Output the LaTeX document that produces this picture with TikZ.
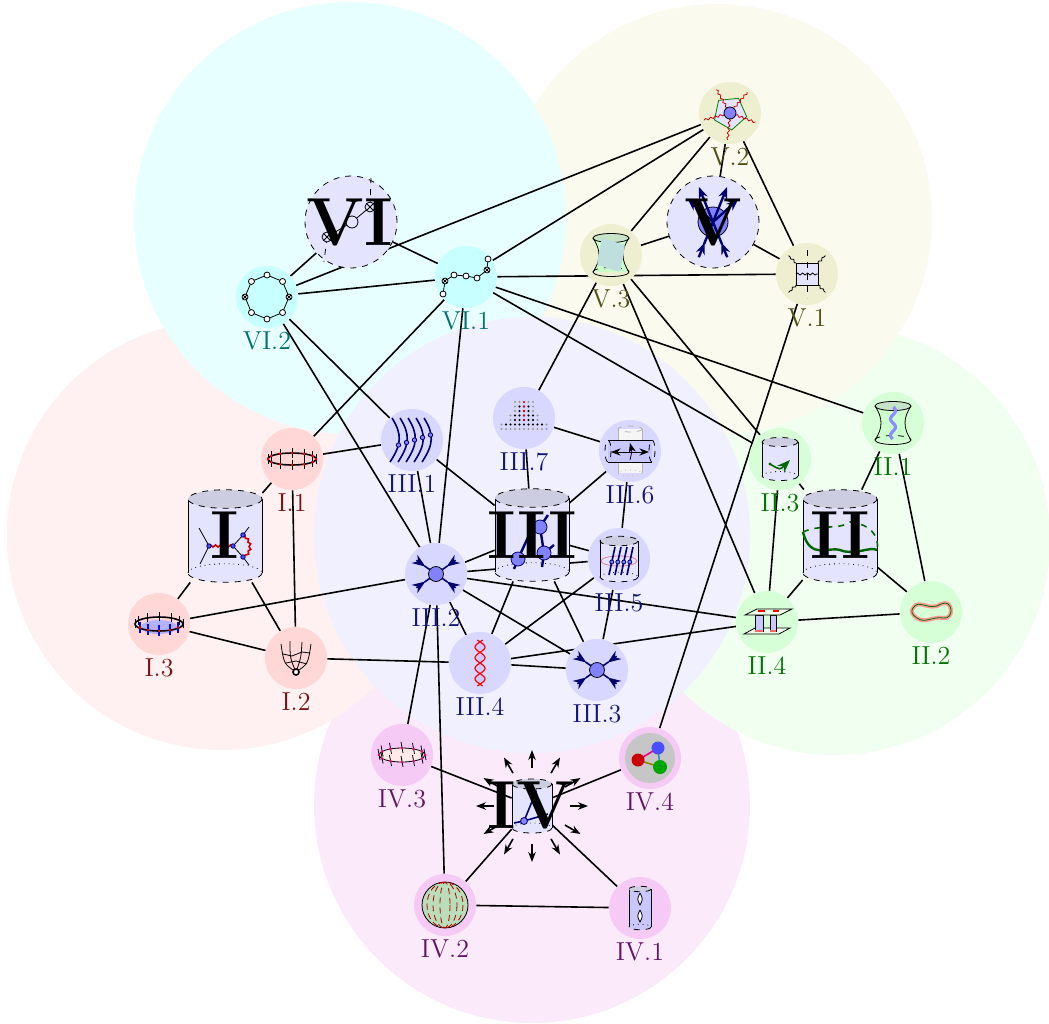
\documentclass[tikz,border=0pt]{standalone}
\usetikzlibrary{arrows.meta,decorations.pathmorphing}
\tikzset {>=Stealth}
\definecolor{bgI}{RGB}{255,241,241}
\definecolor{bgII}{RGB}{240,255,240}
\definecolor{bgIII}{RGB}{240,240,255}
\definecolor{bgIV}{RGB}{251,234,250}
\definecolor{bgV}{RGB}{250,250,238}
\definecolor{bgVI}{RGB}{232,255,255}
\definecolor{ndI}{RGB}{255,215,215}
\definecolor{ndII}{RGB}{215,255,215}
\definecolor{ndIII}{RGB}{215,215,255}
\definecolor{ndIV}{RGB}{245,202,245}
\definecolor{ndV}{RGB}{238,238,208}
\definecolor{ndVI}{RGB}{200,255,255}
\definecolor{txI}{RGB}{120,20,20}
\definecolor{txII}{RGB}{0,115,0}
\definecolor{txIII}{RGB}{20,20,120}
\definecolor{txIV}{RGB}{100,20,100}
\definecolor{txV}{RGB}{80,80,20}
\definecolor{txVI}{RGB}{0,112,112}
\definecolor{lav}{RGB}{228,228,255}
\definecolor{tube}{RGB}{200,200,255}
\definecolor{cyltop}{RGB}{205,205,225}
\definecolor{dotblue}{RGB}{130,130,255}
\definecolor{navy}{RGB}{0,0,110}
\definecolor{hypfill}{RGB}{205,255,205}
\definecolor{hyptop}{RGB}{200,228,200}
\definecolor{sphere}{RGB}{185,222,185}
\pgfdeclarelayer{back}
\pgfdeclarelayer{edges}
\pgfsetlayers{back,edges,main}

% cylinder: fill, x, y, half width, half height
\newcommand{\cylbody}[5][lav]{%
\begin{scope}[shift={(#2,#3)}]
\fill[#1] (-#4,-#5) rectangle (#4,#5);
\fill[#1] (0,#5) ellipse[x radius=#4,y radius=#4/4];
\draw[dotted] (-#4,#5) arc[start angle=180,end angle=360,x radius=#4,y radius=#4/4];
\draw[dashed] (#4,#5) arc[start angle=0,end angle=180,x radius=#4,y radius=#4/4];
\draw (-#4,-#5) -- (-#4,#5) (#4,-#5) -- (#4,#5);
\draw[dashed,fill=cyltop] (0,-#5) ellipse[x radius=#4,y radius=#4/4];
\end{scope}}
\newcommand{\hyper}[2]{%
\begin{scope}[shift={(#1,#2)}]
\fill[hypfill] (-18,-17) .. controls (-10,-5) and (-10,5) .. (-18,17) -- (18,17) .. controls (10,5) and (10,-5) .. (18,-17) -- cycle;
\draw (-18,-17) .. controls (-10,-5) and (-10,5) .. (-18,17) (18,17) .. controls (10,5) and (10,-5) .. (18,-17);
\draw[dashed] (-18,17) arc[start angle=180,end angle=360,x radius=18,y radius=4.5];
\draw (18,17) arc[start angle=0,end angle=180,x radius=18,y radius=4.5];
\draw[fill=hyptop] (0,-17) ellipse[x radius=18,y radius=4.5];
\end{scope}}
\newcommand{\otpt}[1]{\draw[fill=white] #1 circle (3); \draw #1 +(-2.1,-2.1) -- +(2.1,2.1) #1 +(-2.1,2.1) -- +(2.1,-2.1);}
\newcommand{\vertx}[2]{%
\begin{scope}[shift={(#1,#2)}]
\foreach \a in {35,145,215,325} {\draw[navy,thick,->] (\a:24) -- (\a:13); \draw[navy,thick] (\a:14) -- (0,0);}
\draw[fill=dotblue] (0,0) circle (7.5);
\end{scope}}

\begin{document}
\begin{tikzpicture}[x=.5pt,y=-.5pt,
  sn/.style={circle,minimum size=31pt,inner sep=0pt,fill=#1},
  lb/.style={text=#1,font=\fontsize{13}{15}\selectfont,label distance=-2pt},
  bign/.style={circle,draw,dashed,fill=lav,minimum size=46pt},
  cyln/.style={minimum width=37pt,minimum height=46pt,inner sep=0pt},
  big/.style={font=\fontsize{34}{34}\selectfont\bfseries},
  link/.style={line width=.8pt},
  wig/.style={decorate,decoration={snake,amplitude=.5pt,segment length=2.5pt}}]
\useasboundingbox (0,0) rectangle (1049,1023);

\begin{pgfonlayer}{back}
\fill[bgIV] (532,805) circle (218);
\fill[bgII] (835,540) circle (215);
\fill[bgV] (717,219) circle (215);
\fill[bgI] (222,535) circle (215);
\fill[bgVI] (350,218) circle (216);
\fill[bgIII] (532,535) circle (218);
\end{pgfonlayer}

% group V
\node[sn=ndV,label={[lb=txV]below:V.2}] (V2) at (730,113) {};
\node[sn=ndV,label={[lb=txV]below:V.3}] (V3) at (611,255) {};
\node[sn=ndV,label={[lb=txV]below:V.1}] (V1) at (807,274) {};
\node[bign] (V) at (713,222) {};
\begin{scope}[shift={(730,113)}]
\draw[green!50!black,fill=lav] (-60:17) -- (12:17) -- (84:17) -- (156:17) -- (228:17) -- cycle;
\foreach \a in {20,95,165,240,310} \draw[red!80!black,wig] (\a:6) -- (\a:27);
\draw[fill=dotblue] (0,0) circle (6);
\end{scope}
\hyper{611}{255}
\fill[teal!25] (611,255) +(-10,-11) .. controls +(0,-7) .. +(10,-11) .. controls +(5,0) .. +(10,11) .. controls +(0,7) .. +(-10,11) .. controls +(-5,0) .. +(-10,-11);
\begin{scope}[shift={(807,274)}]
\draw[fill=lav] (-11,-11) rectangle (11,11);
\foreach \a in {45,135,225,315} \draw[wig] (\a:15.6) -- (\a:26);
\draw[wig] (-11,0) -- (11,0);
\draw[dashed] (0,-24) -- (0,24);
\end{scope}
\begin{scope}[shift={(713,222)}]
\draw[fill=dotblue] (0,0) circle (15);
\foreach \a/\r in {248/38,292/38,222/34,318/34} \draw[navy,very thick,-{Stealth[length=6pt]}] (0,0) -- (\a:\r);
\foreach \a in {112,68} {\draw[navy,very thick,-{Stealth[length=6pt]}] (\a:38) -- (\a:22); \draw[navy,very thick] (\a:24) -- (0,0);}
\end{scope}
\node[big] at (713,222) {V};

% group VI
\node[sn=ndVI,label={[lb=txVI]below:VI.2}] (VI2) at (267,297) {};
\node[sn=ndVI,label={[lb=txVI]below:VI.1}] (VI1) at (466,277) {};
\node[bign] (VI) at (351,222) {};
\begin{scope}[shift={(267,297)}]
\draw (0:22) -- (45:22) -- (90:22) -- (135:22) -- (180:22) -- (225:22) -- (270:22) -- (315:22) -- cycle;
\foreach \a in {45,90,135,225,270,315} \draw[fill=white] (\a:22) circle (3);
\otpt{(0:22)} \otpt{(180:22)}
\end{scope}
\begin{scope}[shift={(466,277)}]
\draw (-23,17) -- (-21,4) -- (-12,-2) -- (0,-1) -- (11,1) -- (21,-7) -- (22,-18);
\foreach \p in {(-23,17),(-12,-2),(0,-1),(11,1),(22,-18)} \draw[fill=white] \p circle (3);
\otpt{(-21,4)} \otpt{(21,-7)}
\end{scope}
\begin{scope}[shift={(351,222)}]
\draw[dashed] (19,-15) -- (20,-44) (-24,15) -- (-27,40);
\draw (-24,15) -- (1,0) -- (19,-15);
\draw[fill=lav] (1,0) circle (6);
\draw[fill=lav] (19,-15) circle (5) (19,-15) +(-3.5,-3.5) -- +(3.5,3.5) (19,-15) +(-3.5,3.5) -- +(3.5,-3.5);
\draw[fill=lav] (-24,15) circle (5) (-24,15) +(-3.5,-3.5) -- +(3.5,3.5) (-24,15) +(-3.5,3.5) -- +(3.5,-3.5);
\end{scope}
\node[big] at (350,222) {VI};

% group I
\node[sn=ndI,label={[lb=txI]below:I.1}] (I1) at (292,459) {};
\node[sn=ndI,label={[lb=txI]below:I.3}] (I3) at (159,624) {};
\node[sn=ndI,label={[lb=txI]below:I.2}] (I2) at (296,658) {};
\cylbody{225}{536}{37}{37}
\node[cyln] (I) at (225,536) {};
\begin{scope}[shift={(292,459)}]
\draw[thick] (0,0) ellipse[x radius=24,y radius=6];
\foreach \a in {0,30,...,330} {\draw (\a:24 and 6) +(0,-5) -- +(0,5); \fill[red] (\a:24 and 6) circle (1.4);}
\end{scope}
\begin{scope}[shift={(159,624)}]
\fill[blue!30] (0,3) ellipse[x radius=18,y radius=7];
\draw[thick] (0,0) ellipse[x radius=24,y radius=7];
\foreach \a in {180,210,...,360} \draw (\a:24 and 7) +(0,-5) -- +(0,4);
\foreach \a in {30,60,...,150} {\draw[blue,thick] (\a:22 and 7) +(0,-6) -- +(0,5); \fill[red] (\a:22 and 7) circle (1.4);}
\end{scope}
\begin{scope}[shift={(296,658)}]
\draw (-15,-14) .. controls (-12,6) .. (0,14) (15,-14) .. controls (12,6) .. (0,14);
\draw (-6,-17) .. controls (-6,0) .. (0,14) (6,-16) .. controls (5,0) .. (0,14);
\draw (-13,-4) -- (-4,-2) -- (6,-6) -- (14,-5) (-10,5) -- (0,3) -- (11,6);
\draw[thick,fill=white] (0,14) circle (3);
\end{scope}
\begin{scope}[shift={(225,536)}]
\draw (-26,-8) -- (-16,10) -- (-25,28);
\draw[red!80!black,thick,wig] (-16,10) -- (8,10);
\draw (8,10) -- (18,-1) -- (24,-9) (8,10) -- (18,21) -- (24,29);
\draw[red!80!black,thick,wig] (18,-1) .. controls (26,5) and (26,15) .. (18,21);
\fill[blue!70,draw=navy] (-16,10) circle (2.2) (8,10) circle (2.2) (18,-1) circle (2.2) (18,21) circle (2.2);
\end{scope}
\node[big] at (225,535) {I};

% group II
\node[sn=ndII,label={[lb=txII]below:II.1}] (II1) at (893,423) {};
\node[sn=ndII,label={[lb=txII]below:II.3}] (II3) at (780,459) {};
\node[sn=ndII,label={[lb=txII]below:II.2}] (II2) at (931,612) {};
\node[sn=ndII,label={[lb=txII]below:II.4}] (II4) at (767,622) {};
\cylbody{840}{536}{37}{37}
\node[cyln] (II) at (840,536) {};
\hyper{893}{423}
\draw[blue!45,line width=1.6pt,domain=-16:16,samples=30] plot ({893+2.5*sin(\x*22)},{423+\x});
\cylbody{780}{459}{18}{17}
\draw[green!40!black,thick,->] (770,464) .. controls (780,470) .. (790,460);
\fill[green!40!black] (770,464) circle (1.6);
\begin{scope}[shift={(931,612)}]
\draw[pink!80!red,line width=2pt] (-18,-4) .. controls (-12,-14) and (-2,0) .. (10,-8) .. controls (22,-14) and (24,8) .. (12,6) .. controls (2,4) and (-6,12) .. (-14,6) .. controls (-20,2) and (-20,-1) .. (-18,-4);
\draw[green!45!black] (-18,-4) .. controls (-12,-14) and (-2,0) .. (10,-8) .. controls (22,-14) and (24,8) .. (12,6) .. controls (2,4) and (-6,12) .. (-14,6) .. controls (-20,2) and (-20,-1) .. (-18,-4);
\end{scope}
\begin{scope}[shift={(767,622)}]
\draw[fill=green!8] (-23,12) -- (-12,6) -- (23,6) -- (12,12) -- cycle;
\draw[fill=tube] (-12,-7) rectangle (-4,9) (3,-7) rectangle (9,9);
\draw[red!60,thick] (-12,9) -- (-4,9) (3,9) -- (9,9);
\draw[fill=green!8] (-22,-7) -- (-10,-13) -- (25,-13) -- (13,-7) -- cycle;
\draw[red,thick] (-9,-11) -- (-2,-11) (6,-11) -- (12,-11);
\end{scope}
\begin{scope}[shift={(840,536)}]
\draw[green!40!black,thick,dashed] (-37,-4) .. controls (-20,-12) and (0,-6) .. (10,-14) .. controls (30,-12) and (40,0) .. (37,14);
\draw[green!40!black,very thick] (-37,-4) .. controls (-30,25) and (-10,10) .. (0,14) .. controls (15,20) and (30,10) .. (37,14);
\end{scope}
\node[big] at (840,535) {II};

% group III
\node[sn=ndIII,label={[lb=txIII]below:III.1}] (III1) at (412,440) {};
\node[sn=ndIII,label={[lb=txIII]below:III.7}] (III7) at (524,418) {};
\node[sn=ndIII,label={[lb=txIII]below:III.6}] (III6) at (630,451) {};
\node[sn=ndIII,label={[lb=txIII]below:III.5}] (III5) at (619,559) {};
\node[sn=ndIII,label={[lb=txIII]below:III.2}] (III2) at (436,574) {};
\node[sn=ndIII,label={[lb=txIII]below:III.4}] (III4) at (480,663) {};
\node[sn=ndIII,label={[lb=txIII]below:III.3}] (III3) at (597,670) {};
\cylbody{532}{535}{37}{37}
\node[cyln] (III) at (532,535) {};
\begin{scope}[shift={(412,440)}]
\foreach \i in {0,...,4} \draw[navy,thick] (-20+8*\i,-22) .. controls (-10+8*\i,-6) and (-10+8*\i,4) .. (-22+8*\i,22);
\foreach \i in {0,...,4} \fill[dotblue,draw=navy] (-13.5+8*\i,5-2.5*\i) circle (2.2);
\end{scope}
\begin{scope}[shift={(524,418)}]
\foreach \y/\n in {-16/2,-11.5/2,-7/2,-2.5/3,2/3,6.5/5,11/5} \foreach \i in {-\n,...,\n} \fill[black!40] (4.5*\i,\y) circle (1.1);
\foreach \y/\n in {-11.5/1,-7/1,-2.5/2,2/2,6.5/4} \foreach \i in {-\n,...,\n} \fill (4.5*\i,\y) circle (1.1);
\foreach \y in {-16,-11.5,-7,-2.5,2} \fill[red] (0,\y) circle (1.2);
\end{scope}
\begin{scope}[shift={(630,451)}]
\fill[gray!8] (-12,-22) rectangle (12,22);
\draw[gray!60] (-12,-22) -- (-12,22) (12,-22) -- (12,22);
\draw[gray!60,dashed] (0,-22) ellipse[x radius=12,y radius=3];
\draw[gray!60,dotted] (0,22) ellipse[x radius=12,y radius=3];
\fill[tube] (-22,-11) rectangle (22,11);
\draw (-22,-11) -- (22,-11) (-22,11) -- (22,11);
\draw[dashed] (-22,0) ellipse[x radius=3,y radius=11] (22,0) ellipse[x radius=3,y radius=11];
\draw[<->] (-19,1) -- (19,1);
\draw[->] (0,9) .. controls (2,0) .. (0,-8);
\end{scope}
\cylbody{619}{559}{19}{18}
\begin{scope}[shift={(619,559)}]
\draw[purple!50] (0,2) ellipse[x radius=18,y radius=5];
\foreach \i in {0,...,3} {\draw[navy,thick] (-10+6*\i,16) -- (-4+6*\i,-12); \fill[dotblue,draw=navy] (-7.2+6*\i,3) circle (2);}
\end{scope}
\vertx{436}{574}
\vertx{597}{670}
\begin{scope}[shift={(480,663)}]
\fill[blue!20,domain=-23:23,samples=40] plot ({5*sin(\x*17)},\x) -- plot[domain=23:-23] ({-5*sin(\x*17)},\x) -- cycle;
\draw[red,semithick,domain=-23:23,samples=40] plot ({5*sin(\x*17)},\x);
\draw[red,semithick,domain=-23:23,samples=40] plot ({-5*sin(\x*17)},\x);
\end{scope}
\begin{scope}[shift={(532,535)}]
\draw[navy,very thick] (-18,34) -- (-14,24) -- (-2,-2) (8,-8) -- (16,-20) (8,-8) -- (12,18) -- (22,10) (12,18) -- (10,32);
\fill[dotblue,draw=navy] (-14,24) circle (7) (8,-8) circle (7) (12,18) circle (7);
\end{scope}
\node[big] at (532,535) {III};

% group IV
\node[sn=ndIV,label={[lb=txIV]below:IV.3}] (IV3) at (402,755) {};
\node[sn=ndIV,label={[lb=txIV]below:IV.4}] (IV4) at (650,758) {};
\node[sn=ndIV,label={[lb=txIV]below:IV.2}] (IV2) at (445,905) {};
\node[sn=ndIV,label={[lb=txIV]below:IV.1}] (IV1) at (640,908) {};
\cylbody{532}{806}{20}{22}
\node[minimum width=20pt,minimum height=28pt,inner sep=0pt] (IV) at (532,806) {};
\begin{scope}[shift={(532,806)}]
\draw[navy,thick] (-18,17) -- (-8,15) -- (16,8) (-8,15) -- (4,-14) -- (12,18);
\fill[dotblue,draw=navy] (-8,15) circle (3.5);
\foreach \a in {0,30,...,330} \draw[thick,-{Stealth[length=5pt]}] (\a:38) -- (\a:56);
\end{scope}
\node[big] at (531,805) {IV};
\begin{scope}[shift={(402,755)}]
\draw[fill=pink!35] (0,0) ellipse[x radius=23,y radius=7];
\foreach \a in {0,30,...,330} {\draw (\a:23 and 7) +(-1,-6) -- +(1,5); \fill[magenta!80!red] (\a:23 and 7) circle (1.4);}
\end{scope}
\begin{scope}[shift={(650,758)}]
\fill[gray!45] (0,0) circle (25);
\draw[magenta,thick] (-12,2) -- (8,-10);
\draw[cyan!70!black,thick] (8,-10) -- (10,9);
\draw[olive,thick] (-12,2) -- (10,9);
\fill[blue!70] (8,-10) circle (6.5);
\fill[red!80!black] (-12,2) circle (6.5);
\fill[green!65!black] (10,9) circle (7);
\end{scope}
\begin{scope}[shift={(445,905)}]
\draw[fill=sphere] (0,0) circle (23);
\clip (0,0) circle (23);
\foreach \r in {5,12,18} \draw[red!70!black,densely dashed] (0,0) ellipse[x radius=\r,y radius=23];
\end{scope}
\cylbody[tube]{640}{908}{11}{19}
\draw[fill=white] (640,893) .. controls (643,899) .. (640,905) .. controls (637,899) .. (640,893);
\draw[fill=white] (640,910) .. controls (643,916) .. (640,922) .. controls (637,916) .. (640,910);

\begin{pgfonlayer}{edges}
\draw[link] (V2) -- (VI2) (V2) -- (VI1) (V2) -- (V3) (V2) -- (V) (V2) -- (V1)
 (V3) -- (V) (VI1) -- (V1) (V3) -- (III7) (V3) -- (II3) (V3) -- (II4)
 (V) -- (V1) (V1) -- (IV4)
 (VI) -- (VI2) (VI) -- (VI1) (VI2) -- (VI1) (VI2) -- (III1) (VI2) -- (III2)
 (VI1) -- (I1) (VI1) -- (III2) (VI1) -- (II1) (VI1) -- (II3)
 (I1) -- (III1) (I1) -- (I) (I1) -- (I2) (I) -- (I3) (I) -- (I2)
 (I3) -- (I2) (I3) -- (III2) (I2) -- (III4)
 (III1) -- (III2) (III1) -- (III) (III7) -- (III) (III7) -- (III6)
 (III6) -- (III) (III6) -- (III5) (III5) -- (III) (III5) -- (III4) (III5) -- (III3)
 (III2) -- (III) (III2) -- (III5) (III2) -- (II4) (III2) -- (III3) (III2) -- (III4)
 (III2) -- (IV3) (III2) -- (IV2)
 (III) -- (III4) (III) -- (III3) (III4) -- (III3) (III4) -- (II4)
 (II1) -- (II) (II1) -- (II2) (II3) -- (II) (II3) -- (II4)
 (II) -- (II2) (II) -- (II4) (II4) -- (II2)
 (IV3) -- (IV) (IV4) -- (IV) (IV2) -- (IV) (IV1) -- (IV) (IV2) -- (IV1);
\end{pgfonlayer}
\end{tikzpicture}
\end{document}
